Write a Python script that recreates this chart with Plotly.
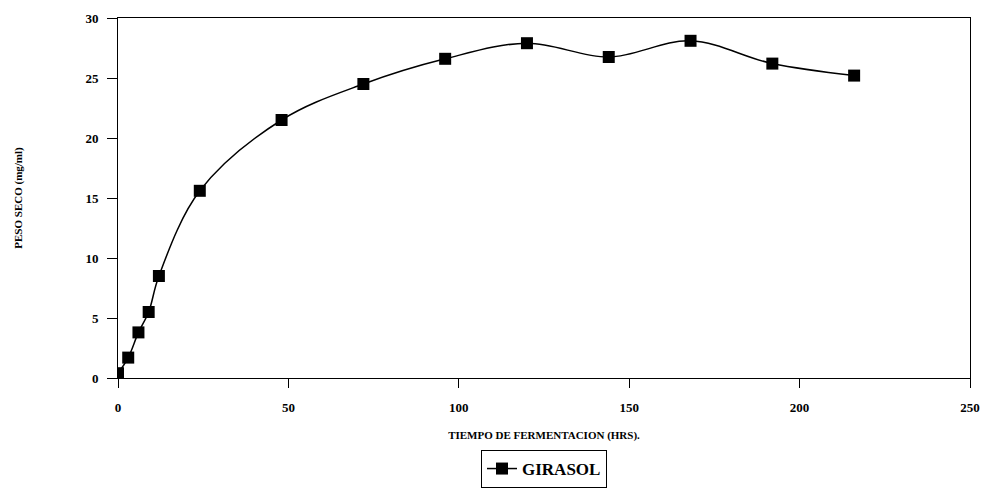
import plotly.graph_objects as go

tiempo = [0, 3, 6, 9, 12, 24, 48, 72, 96, 120, 144, 168, 192, 216]
peso_seco = [0.4, 1.7, 3.8, 5.5, 8.5, 15.6, 21.5, 24.5, 26.6, 27.9, 26.75, 28.1, 26.2, 25.2]

font_serif = "Liberation Serif"

fig = go.Figure()
fig.add_trace(go.Scatter(
    x=tiempo, y=peso_seco, name="GIRASOL", mode="lines+markers",
    line=dict(color="black", width=1.5, shape="spline", smoothing=1.0),
    marker=dict(symbol="square", size=12, color="black"),
))

fig.update_layout(
    width=986, height=491,
    margin=dict(l=118, r=16, t=18, b=113, autoexpand=False),
    paper_bgcolor="white", plot_bgcolor="white",
    font=dict(family=font_serif, color="black"),
    showlegend=True,
    legend=dict(
        x=0.5, xanchor="center", y=-0.2, yanchor="top",
        orientation="h",
        bordercolor="black", borderwidth=1,
        font=dict(size=17, family="serif", color="black", weight="bold"),
        itemwidth=30, tracegroupgap=0,
    ),
)
fig.update_xaxes(
    range=[0, 250], tickvals=[0, 50, 100, 150, 200, 250],
    showgrid=False, zeroline=False, automargin=False,
    showline=True, linecolor="black", linewidth=1, mirror=True,
    ticks="outside", ticklen=9, tickcolor="black",
    tickfont=dict(size=13, family="serif", color="black", weight="bold"),
    ticklabelstandoff=8,
    title=dict(text="TIEMPO DE FERMENTACION (HRS).",
               font=dict(size=11, family="serif", color="black", weight="bold"),
               standoff=17),
)
fig.update_yaxes(
    range=[0, 30], tickvals=[0, 5, 10, 15, 20, 25, 30],
    showgrid=False, zeroline=False, automargin=False,
    showline=True, linecolor="black", linewidth=1, mirror=True,
    ticks="outside", ticklen=10, tickcolor="black",
    tickfont=dict(size=13, family="serif", color="black", weight="bold"),
    ticklabelstandoff=6,
    title=dict(text="PESO SECO (mg/ml)",
               font=dict(size=11, family="serif", color="black", weight="bold"),
               standoff=60),
)

fig.write_html("out.html")
